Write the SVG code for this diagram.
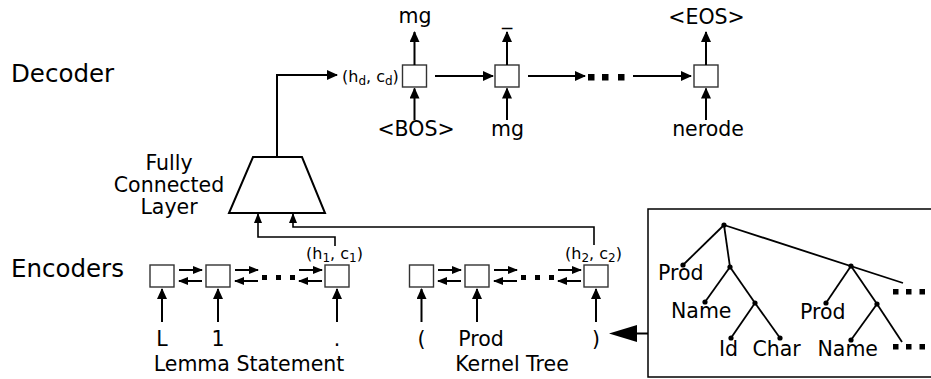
<svg xmlns="http://www.w3.org/2000/svg" width="931" height="379" viewBox="0 0 931 379">
<defs>
<style>
text{font-family:"DejaVu Sans","Liberation Sans",sans-serif;fill:#000}
.lbl{font-size:20.5px}
.big{font-size:24.5px}
.st{font-size:16px}
.sub{font-size:12px}
.box{fill:#fff;stroke:#333;stroke-width:1.4}
.ln{fill:none;stroke:#000;stroke-width:2}
.thin{fill:none;stroke:#000;stroke-width:1.6}
.tr{fill:none;stroke:#000;stroke-width:1.8}
.dot{fill:#000}
</style>
<marker id="ah" markerUnits="userSpaceOnUse" markerWidth="11" markerHeight="10" refX="10" refY="5" orient="auto">
<path d="M0,0 L11,5 L0,10 z" fill="#000"/>
</marker>
<marker id="as" markerUnits="userSpaceOnUse" markerWidth="10" markerHeight="8" refX="9" refY="4" orient="auto">
<path d="M0,0 L10,4 L0,8 z" fill="#000"/>
</marker>
</defs>
<rect width="931" height="379" fill="#fff"/>

<g id="section-labels">
<text class="big" x="11" y="82">Decoder</text>
<text class="big" x="11" y="277">Encoders</text>
</g>

<g id="decoder-cell-1">
<rect class="box" x="402.5" y="65" width="24" height="22"/>
<text class="lbl" x="415" y="23" text-anchor="middle">mg</text>
<text class="lbl" x="416" y="136" text-anchor="middle">&lt;BOS&gt;</text>
<text class="st" x="342" y="82">(h<tspan class="sub" dy="3">d</tspan><tspan dy="-3">, c</tspan><tspan class="sub" dy="3">d</tspan><tspan dy="-3">)</tspan></text>
</g>
<g id="decoder-cell-2">
<rect class="box" x="495" y="65" width="24" height="22"/>
<text class="lbl" x="507" y="24" text-anchor="middle">_</text>
<text class="lbl" x="507.5" y="136" text-anchor="middle">mg</text>
</g>
<g id="decoder-cell-3">
<rect class="box" x="694" y="65" width="24" height="22"/>
<text class="lbl" x="706.5" y="24" text-anchor="middle">&lt;EOS&gt;</text>
<text class="lbl" x="708" y="136" text-anchor="middle">nerode</text>
</g>

<g id="fc-layer">
<polygon points="253,157 302,157 325,213 229,213" fill="#fff" stroke="#000" stroke-width="2"/>
<text class="lbl" x="169" y="170" text-anchor="middle">Fully</text>
<text class="lbl" x="169" y="192" text-anchor="middle">Connected</text>
<text class="lbl" x="169" y="214" text-anchor="middle">Layer</text>
</g>

<g id="lemma-encoder">
<rect class="box" x="150" y="265" width="24" height="22"/>
<rect class="box" x="206" y="265" width="24" height="22"/>
<rect class="box" x="325" y="265" width="24" height="22"/>
<text class="st" x="306" y="259">(h<tspan class="sub" dy="3">1</tspan><tspan dy="-3">, c</tspan><tspan class="sub" dy="3">1</tspan><tspan dy="-3">)</tspan></text>
<text class="lbl" x="162" y="346" text-anchor="middle">L</text>
<text class="lbl" x="218" y="346" text-anchor="middle">1</text>
<text class="lbl" x="337" y="346" text-anchor="middle">.</text>
<text class="lbl" x="249" y="371" text-anchor="middle">Lemma Statement</text>
</g>

<g id="kernel-encoder">
<rect class="box" x="409.5" y="265" width="24" height="22"/>
<rect class="box" x="465" y="265" width="24" height="22"/>
<rect class="box" x="584" y="265" width="24" height="22"/>
<text class="st" x="565" y="259">(h<tspan class="sub" dy="3">2</tspan><tspan dy="-3">, c</tspan><tspan class="sub" dy="3">2</tspan><tspan dy="-3">)</tspan></text>
<text class="lbl" x="421.5" y="346" text-anchor="middle">(</text>
<text class="lbl" x="481" y="346" text-anchor="middle">Prod</text>
<text class="lbl" x="596" y="346" text-anchor="middle">)</text>
<text class="lbl" x="512" y="371" text-anchor="middle">Kernel Tree</text>
</g>

<g id="kernel-tree">
<rect x="648" y="209" width="290" height="168" fill="none" stroke="#000" stroke-width="1.5"/>
<g class="tr">
<line x1="724" y1="225" x2="683" y2="265"/>
<line x1="724" y1="225" x2="730" y2="267"/>
<line x1="724" y1="225" x2="903" y2="283"/>
<line x1="730" y1="267" x2="705" y2="302"/>
<line x1="730" y1="267" x2="755" y2="303"/>
<line x1="755" y1="303" x2="731" y2="338"/>
<line x1="755" y1="303" x2="780" y2="338"/>
<line x1="851" y1="266" x2="826" y2="303"/>
<line x1="851" y1="266" x2="877" y2="304"/>
<line x1="877" y1="304" x2="851" y2="340"/>
<line x1="877" y1="304" x2="902" y2="342"/>
</g>
<g class="dot">
<circle cx="724" cy="225" r="2.6"/>
<circle cx="683" cy="265" r="2.6"/>
<circle cx="730" cy="267" r="2.6"/>
<circle cx="851" cy="266" r="2.6"/>
<circle cx="705" cy="302" r="2.6"/>
<circle cx="755" cy="303" r="2.6"/>
<circle cx="731" cy="338" r="2.6"/>
<circle cx="780" cy="338" r="2.6"/>
<circle cx="826" cy="303" r="2.6"/>
<circle cx="877" cy="304" r="2.6"/>
<circle cx="851" cy="340" r="2.6"/>
<rect x="893" y="289" width="5.5" height="5.5"/>
<rect x="906" y="289" width="5.5" height="5.5"/>
<rect x="919.5" y="289" width="5.5" height="5.5"/>
<rect x="893" y="344" width="5.5" height="5.5"/>
<rect x="906" y="344" width="5.5" height="5.5"/>
<rect x="919.5" y="344" width="5.5" height="5.5"/>
</g>
<text class="lbl" x="658" y="280">Prod</text>
<text class="lbl" x="671" y="318">Name</text>
<text class="lbl" x="719" y="356">Id</text>
<text class="lbl" x="752.5" y="356">Char</text>
<text class="lbl" x="817.5" y="356">Name</text>
<text class="lbl" x="800" y="319">Prod</text>
</g>

<g id="connectors">
<line class="ln" x1="414.5" y1="65" x2="414.5" y2="32" marker-end="url(#ah)"/>
<line class="ln" x1="507" y1="65" x2="507" y2="32" marker-end="url(#ah)"/>
<line class="ln" x1="706" y1="65" x2="706" y2="32" marker-end="url(#ah)"/>
<line class="ln" x1="414.5" y1="120" x2="414.5" y2="88.5" marker-end="url(#ah)"/>
<line class="ln" x1="507" y1="120" x2="507" y2="88.5" marker-end="url(#ah)"/>
<line class="ln" x1="706" y1="120" x2="706" y2="88.5" marker-end="url(#ah)"/>
<line class="ln" x1="435" y1="76" x2="493" y2="76" marker-end="url(#ah)"/>
<line class="ln" x1="528" y1="76" x2="585" y2="76" marker-end="url(#ah)"/>
<line class="ln" x1="633" y1="76" x2="691" y2="76" marker-end="url(#ah)"/>
<rect x="588" y="74" width="6.5" height="6.5" fill="#000"/>
<rect x="602" y="74" width="6.5" height="6.5" fill="#000"/>
<rect x="618" y="74" width="6.5" height="6.5" fill="#000"/>
<polyline class="ln" points="277,157 277,75 337,75" stroke-width="1.8" marker-end="url(#ah)"/>
<polyline class="thin" points="335,246 335,237 258,237 258,214" marker-end="url(#as)"/>
<polyline class="thin" points="594,245 594,227 293,227 293,214" marker-end="url(#as)"/>
<line class="ln" x1="179" y1="270" x2="202" y2="270" marker-end="url(#as)"/>
<line class="ln" x1="202" y1="281" x2="179" y2="281" marker-end="url(#as)"/>
<line class="ln" x1="235" y1="270" x2="258" y2="270" marker-end="url(#as)"/>
<line class="ln" x1="258" y1="281" x2="235" y2="281" marker-end="url(#as)"/>
<line class="ln" x1="299" y1="270" x2="322" y2="270" marker-end="url(#as)"/>
<line class="ln" x1="322" y1="281" x2="299" y2="281" marker-end="url(#as)"/>
<rect x="262" y="275" width="5" height="5" fill="#000"/>
<rect x="276" y="275" width="5" height="5" fill="#000"/>
<rect x="290" y="275" width="5" height="5" fill="#000"/>
<line class="ln" x1="438" y1="270" x2="461" y2="270" marker-end="url(#as)"/>
<line class="ln" x1="461" y1="281" x2="438" y2="281" marker-end="url(#as)"/>
<line class="ln" x1="494" y1="270" x2="517" y2="270" marker-end="url(#as)"/>
<line class="ln" x1="517" y1="281" x2="494" y2="281" marker-end="url(#as)"/>
<line class="ln" x1="558" y1="270" x2="581" y2="270" marker-end="url(#as)"/>
<line class="ln" x1="581" y1="281" x2="558" y2="281" marker-end="url(#as)"/>
<rect x="521" y="275" width="5" height="5" fill="#000"/>
<rect x="535" y="275" width="5" height="5" fill="#000"/>
<rect x="549" y="275" width="5" height="5" fill="#000"/>
<line class="ln" x1="162" y1="322" x2="162" y2="289" marker-end="url(#ah)"/>
<line class="ln" x1="218" y1="322" x2="218" y2="289" marker-end="url(#ah)"/>
<line class="ln" x1="337" y1="322" x2="337" y2="289" marker-end="url(#ah)"/>
<line class="ln" x1="421.5" y1="322" x2="421.5" y2="289" marker-end="url(#ah)"/>
<line class="ln" x1="477" y1="322" x2="477" y2="289" marker-end="url(#ah)"/>
<line class="ln" x1="596" y1="322" x2="596" y2="289" marker-end="url(#ah)"/>
<line class="ln" x1="648" y1="333.5" x2="634" y2="333.5"/>
<polygon points="609,333.5 637,325 637,342" fill="#000"/>
</g>
</svg>
